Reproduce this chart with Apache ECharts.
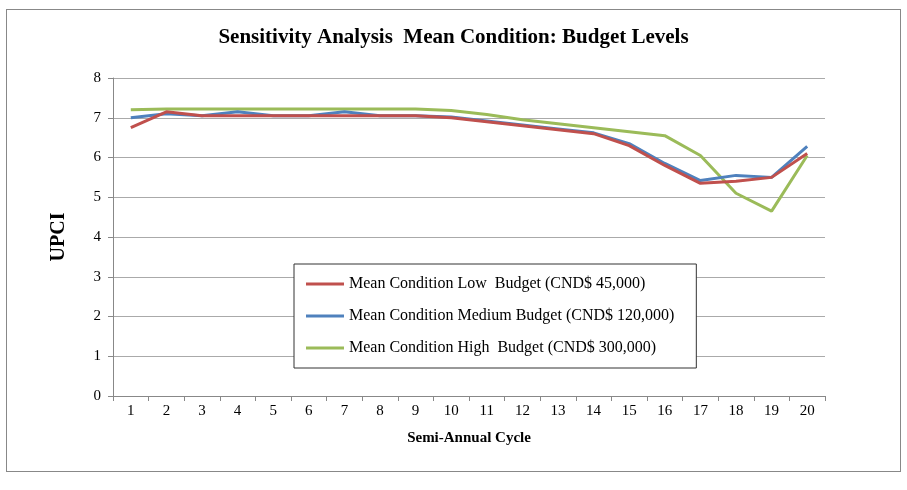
<!DOCTYPE html>
<html><head><meta charset="utf-8">
<script src="https://cdn.jsdelivr.net/npm/echarts@6/dist/echarts.min.js"></script>
<style>html,body{margin:0;background:#fff}#c{width:907px;height:490px}
#frame{position:absolute;left:6px;top:9px;width:893px;height:461px;border:1px solid #888;pointer-events:none}</style>
</head><body><div id="c"></div><div id="frame"></div>
<script>
const cycles = ['1','2','3','4','5','6','7','8','9','10','11','12','13','14','15','16','17','18','19','20'];
const lowBudget = [6.75,7.15,7.05,7.05,7.05,7.05,7.05,7.05,7.05,7.0,6.9,6.8,6.7,6.6,6.3,5.8,5.35,5.4,5.5,6.1];
const mediumBudget = [7.0,7.1,7.05,7.15,7.05,7.05,7.15,7.05,7.05,7.02,6.92,6.82,6.72,6.62,6.35,5.85,5.42,5.55,5.5,6.28];
const highBudget = [7.2,7.22,7.22,7.22,7.22,7.22,7.22,7.22,7.22,7.18,7.08,6.95,6.85,6.75,6.65,6.55,6.05,5.1,4.65,6.05];
const names = ['Mean Condition Low  Budget (CND$ 45,000)','Mean Condition Medium Budget (CND$ 120,000)','Mean Condition High  Budget (CND$ 300,000)'];
const colors = ['#c0504d','#4f81bd','#9bbb59'];

const chart = echarts.init(document.getElementById('c'));
const font = 'Liberation Serif';
chart.setOption({
  animation: false,
  color: colors,
  title: {text: 'Sensitivity Analysis  Mean Condition: Budget Levels', left: 'center', top: 22,
    textStyle: {fontFamily: font, fontSize: 21, fontWeight: 'bold', color: '#000'}},
  legend: {left: 294, top: 264, orient: 'vertical', itemGap: 16, itemWidth: 38, itemHeight: 3,
    icon: 'rect', borderColor: '#333', borderWidth: 1, padding: [12, 22, 12, 12],
    backgroundColor: '#fff',
    textStyle: {fontFamily: font, fontSize: 16, color: '#000'}},
  grid: {left: 113, right: 82, top: 78, bottom: 94},
  xAxis: {type: 'category', data: cycles, boundaryGap: true,
    name: 'Semi-Annual Cycle', nameLocation: 'middle', nameGap: 35,
    nameTextStyle: {fontFamily: font, fontSize: 15, fontWeight: 'bold', color: '#000'},
    axisLine: {lineStyle: {color: '#888'}}, axisTick: {show: true, lineStyle: {color: '#888'}},
    axisLabel: {fontFamily: font, fontSize: 15, color: '#000'}},
  yAxis: {type: 'value', min: 0, max: 8, interval: 1,
    name: 'UPCI', nameLocation: 'middle', nameGap: 44,
    nameTextStyle: {fontFamily: font, fontSize: 20, fontWeight: 'bold', color: '#000'},
    axisLine: {show: true, lineStyle: {color: '#888'}}, axisTick: {show: true, lineStyle: {color: '#888'}},
    splitLine: {lineStyle: {color: '#aaa'}},
    axisLabel: {fontFamily: font, fontSize: 15, color: '#000', margin: 12}},
  series: [lowBudget, mediumBudget, highBudget].map((d, i) => ({
    name: names[i], type: 'line', data: d, showSymbol: false, lineStyle: {width: 3}, z: 3 - i
  }))
});
</script></body></html>
